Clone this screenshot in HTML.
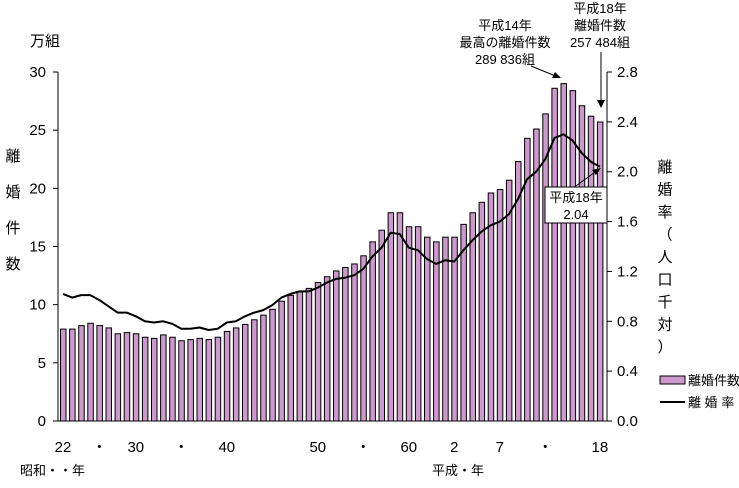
<!DOCTYPE html>
<html><head><meta charset="utf-8">
<style>
body{margin:0;background:#fff;width:739px;height:483px;overflow:hidden}
svg text{font-family:"Liberation Sans","Noto Sans CJK JP",sans-serif;font-size:13px;fill:#000}
svg text.big{font-size:15px}
</style></head><body>
<svg id="c" width="739" height="483">
</svg>
<script>
const years = [];
for (let y = 1947; y <= 2006; y++) years.push(y);
const divorces = [7.9,7.9,8.2,8.4,8.2,8.0,7.5,7.6,7.5,7.2,7.1,7.4,7.2,6.9,7.0,7.1,7.0,7.2,7.7,8.0,8.3,8.7,9.1,9.6,10.3,10.8,11.1,11.4,11.9,12.4,12.9,13.2,13.5,14.2,15.4,16.4,17.9,17.9,16.7,16.7,15.8,15.4,15.8,15.8,16.9,17.9,18.8,19.6,19.9,20.7,22.3,24.3,25.1,26.4,28.6,29.0,28.4,27.1,26.2,25.7];
const rates = [1.02,0.99,1.01,1.01,0.97,0.92,0.87,0.87,0.84,0.80,0.79,0.80,0.78,0.74,0.74,0.75,0.73,0.74,0.79,0.80,0.84,0.87,0.89,0.93,0.99,1.02,1.04,1.04,1.07,1.11,1.14,1.15,1.17,1.22,1.32,1.39,1.51,1.50,1.39,1.37,1.30,1.26,1.29,1.28,1.37,1.45,1.52,1.57,1.60,1.66,1.78,1.94,2.00,2.10,2.27,2.30,2.25,2.15,2.08,2.04];
const leftTicks = [0,5,10,15,20,25,30];
const rightTicks = ["0.0","0.4","0.8","1.2","1.6","2.0","2.4","2.8"];
const xLabels = [[1947,"22"],[1951,"・"],[1955,"30"],[1960,"・"],[1965,"40"],[1975,"50"],[1980,"・"],[1985,"60"],[1990,"2"],[1995,"7"],[2000,"・"],[2006,"18"]];

const svg = document.getElementById('c');
const NS = 'http://www.w3.org/2000/svg';
const X0 = 58, X1 = 607, Y0 = 421, Y1 = 72;
const xs = i => 63 + i * 9.1;
const yL = v => Y0 - (v / 30) * (Y0 - Y1);
const yR = v => Y0 - (v / 2.8) * (Y0 - Y1);
function el(tag, attrs, parent) {
  const e = document.createElementNS(NS, tag);
  for (const k in attrs) e.setAttribute(k, attrs[k]);
  (parent || svg).appendChild(e);
  return e;
}
function txt(x, y, s, anchor, name, cls) {
  const t = el('text', {x: x, y: y, 'text-anchor': anchor || 'middle'});
  if (cls) t.setAttribute('class', cls);
  t.textContent = s;
  
  
  return t;
}
divorces.forEach((v, i) => {
  const r = el('rect', {x: xs(i) - 2.5, y: yL(v), width: 5.5, height: Y0 - yL(v), fill: '#cc99cc', stroke: '#000', 'stroke-width': 1});
  
  
});
const ax = el('path', {d: `M${X0} ${Y1}V${Y0}H${X1}M${X1} ${Y1}V${Y0}`, stroke: '#000', fill: 'none', 'stroke-width': 1});


leftTicks.forEach(v => {
  el('line', {x1: X0 - 5, x2: X0, y1: yL(v), y2: yL(v), stroke: '#000'});
  txt(46, yL(v) + 5, String(v), 'end', 'left-tick-label', 'big');
});
rightTicks.forEach(s => {
  const v = parseFloat(s);
  el('line', {x1: X1, x2: X1 + 5, y1: yR(v), y2: yR(v), stroke: '#000'});
  txt(617, yR(v) + 5, s, 'start', 'right-tick-label', 'big');
});
xLabels.forEach(([yr, s]) => {
  const i = years.indexOf(yr);
  txt(xs(i), 452, s, 'middle', 'x-tick-label', 'big');
});
const pts = rates.map((v, i) => xs(i).toFixed(1) + ',' + yR(v).toFixed(1)).join(' ');
const ln = el('polyline', {points: pts, fill: 'none', stroke: '#000', 'stroke-width': 2, 'stroke-linejoin': 'round'});


txt(45, 46, '万組', 'middle', 'left-axis-unit', 'big');
['離','婚','件','数'].forEach((c, k) => txt(13, 161 + k * 36, c, 'middle', 'left-axis-title', 'big'));
['離','婚','率','（','人','口','千','対','）'].forEach((c, k) => txt(665, 172 + k * 22.5, c, 'middle', 'right-axis-title', 'big'));
txt(20, 475, '昭和・・年', 'start', 'showa-label');
txt(432, 475, '平成・年', 'start', 'heisei-label');
txt(505, 30, '平成14年', 'middle', 'peak-annotation');
txt(505, 47, '最高の離婚件数', 'middle', 'peak-annotation');
txt(505, 64, '289 836組', 'middle', 'peak-annotation');
el('line', {x1: 531, y1: 66, x2: 558, y2: 77, stroke: '#000'});
el('polygon', {points: '561,78 552,78 555,72', fill: '#000'});
txt(600, 13, '平成18年', 'middle', 'latest-annotation');
txt(600, 30, '離婚件数', 'middle', 'latest-annotation');
txt(600, 47, '257 484組', 'middle', 'latest-annotation');
el('line', {x1: 601, y1: 52, x2: 601, y2: 103, stroke: '#000'});
el('polygon', {points: '601,108 597,100 605,100', fill: '#000'});
el('line', {x1: 573, y1: 188, x2: 598, y2: 170, stroke: '#000'});
el('polygon', {points: '601,168 592,170 596,175', fill: '#000'});
const box = el('rect', {x: 545, y: 187, width: 62, height: 36, fill: '#fff', stroke: '#000'});


txt(576, 202, '平成18年', 'middle', 'rate-annotation');
txt(576, 219, '2.04', 'middle', 'rate-annotation');
const lg = el('rect', {x: 660, y: 376, width: 25, height: 8, fill: '#cc99cc', stroke: '#000'});


txt(688, 385, '離婚件数', 'start', 'legend-bar-label');
const ll = el('line', {x1: 660, x2: 685, y1: 402, y2: 402, stroke: '#000', 'stroke-width': 2});


txt(688, 407, '離 婚 率', 'start', 'legend-line-label');
</script>
</body></html>
